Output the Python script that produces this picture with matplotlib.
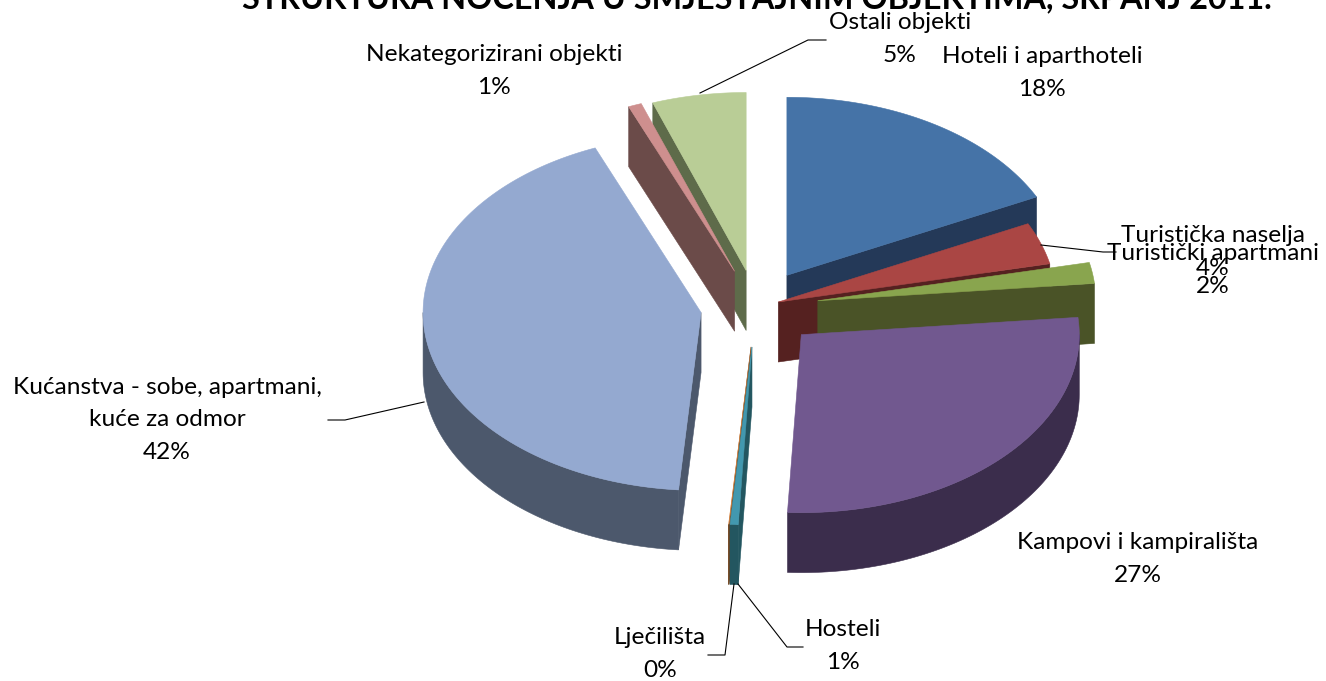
import numpy as np
import matplotlib
matplotlib.use("Agg")
import matplotlib.pyplot as plt
from matplotlib.patches import Polygon

plt.rcParams['font.family'] = ['Lato', 'DejaVu Sans']

# udjeli u nocenjima, redom kako idu na pie-u (od 12 sati u smjeru kazaljke)
categories = ["Hoteli i aparthoteli", "Turistička naselja", "Turistički apartmani",
              "Kampovi i kampirališta", "Hosteli", "Lječilišta",
              "Kućanstva - sobe, apartmani,\nkuće za odmor",
              "Nekategorizirani objekti", "Ostali objekti"]
values = [17.75, 3.8, 1.9, 27.34, 0.47, 0.03, 42.49, 0.77, 5.45]
pct_labels = ["18%", "4%", "2%", "27%", "1%", "0%", "42%", "1%", "5%"]

top_colors = ["#4573A7", "#AA4644", "#89A54E", "#71588F", "#4298AF", "#DB843D",
              "#94A9D0", "#CE8F8E", "#B9CD96"]
side_colors = ["#243958", "#552120", "#4A5327", "#3B2D4C", "#235660", "#70431E",
               "#4C586C", "#6B4B49", "#5E6B4A"]
explode = [0.21, 0.085, 0.225, 0.225, 0.225, 0.225, 0.20, 0.215, 0.208]
draw_order = [0, 1, 2, 3, 8, 7, 6, 5, 4]

# geometrija pie-a u pikselima
CX, CY = 756, 307
A, B = 278, 178
DEPTH = 60

label_pos = [(1042, 73), (1213, 252), (1213, 270), (1138, 559), (843, 646),
             (660, 654), (167, 420), (494, 71), (900, 39)]
leaders = {
    8: [(700, 93), (808, 40), (826, 40)],
    1: [(1041, 245), (1103, 252), (1116, 252)],
    6: [(424, 402), (345, 420), (328, 420)],
    4: [(738, 584), (787, 647), (803, 647)],
    5: [(734, 584), (725, 655), (708, 655)],
}

fig = plt.figure(figsize=(13.26, 6.81), dpi=100)
ax = fig.add_axes([0, 0, 1, 1])
ax.set_xlim(0, 1326)
ax.set_ylim(681, 0)
ax.axis("off")

edges = 360 * np.cumsum([0] + values) / sum(values)


def rim(theta, ox, oy):
    t = np.radians(theta)
    return np.column_stack([ox + A * np.sin(t), oy - B * np.cos(t)])


def face(pts, color, z, lw=0.4):
    ax.add_patch(Polygon(pts, closed=True, fc=color, ec=color, lw=lw, zorder=z))


for z, i in enumerate(draw_order):
    t0, t1 = edges[i], edges[i + 1]
    mid = np.radians((t0 + t1) / 2)
    ox = CX + explode[i] * A * np.sin(mid)
    oy = CY - explode[i] * B * np.cos(mid)
    z = z * 5 + 1
    apex = np.array([[ox, oy]])
    down = np.array([0, DEPTH])

    # stranice reza, vidljive samo kad gledaju prema nama
    if np.sin(np.radians(t0)) < -1e-6:
        p = rim(np.array([t0]), ox, oy)
        face(np.vstack([apex, p, p + down, apex + down]), side_colors[i], z)
    if np.sin(np.radians(t1)) > 1e-6:
        p = rim(np.array([t1]), ox, oy)
        face(np.vstack([apex, p, p + down, apex + down]), side_colors[i], z)

    # vanjski rub, samo prednja polovica
    lo, hi = max(t0, 90), min(t1, 270)
    if hi > lo:
        arc = rim(np.linspace(lo, hi, 80), ox, oy)
        face(np.vstack([arc, (arc + down)[::-1]]), side_colors[i], z + 1)

    arc = rim(np.linspace(t0, t1, 120), ox, oy)
    face(np.vstack([apex, arc]), top_colors[i], z + 2, lw=0.2 if i == 5 else 0.4)

for pts in leaders.values():
    xs, ys = zip(*pts)
    ax.plot(xs, ys, color="black", lw=0.8, zorder=80)

for i, (x, y) in enumerate(label_pos):
    ax.text(x, y, categories[i] + "\n" + pct_labels[i], ha="center", va="center",
            fontsize=17.6, linespacing=1.7, color="black", zorder=90)

ax.text(757, -5, "STRUKTURA NOĆENJA U SMJEŠTAJNIM OBJEKTIMA, SRPANJ 2011.", ha="center", va="center",
        fontsize=23.3, fontweight="bold", color="black", zorder=90)

fig.savefig("out.png", dpi=100)
